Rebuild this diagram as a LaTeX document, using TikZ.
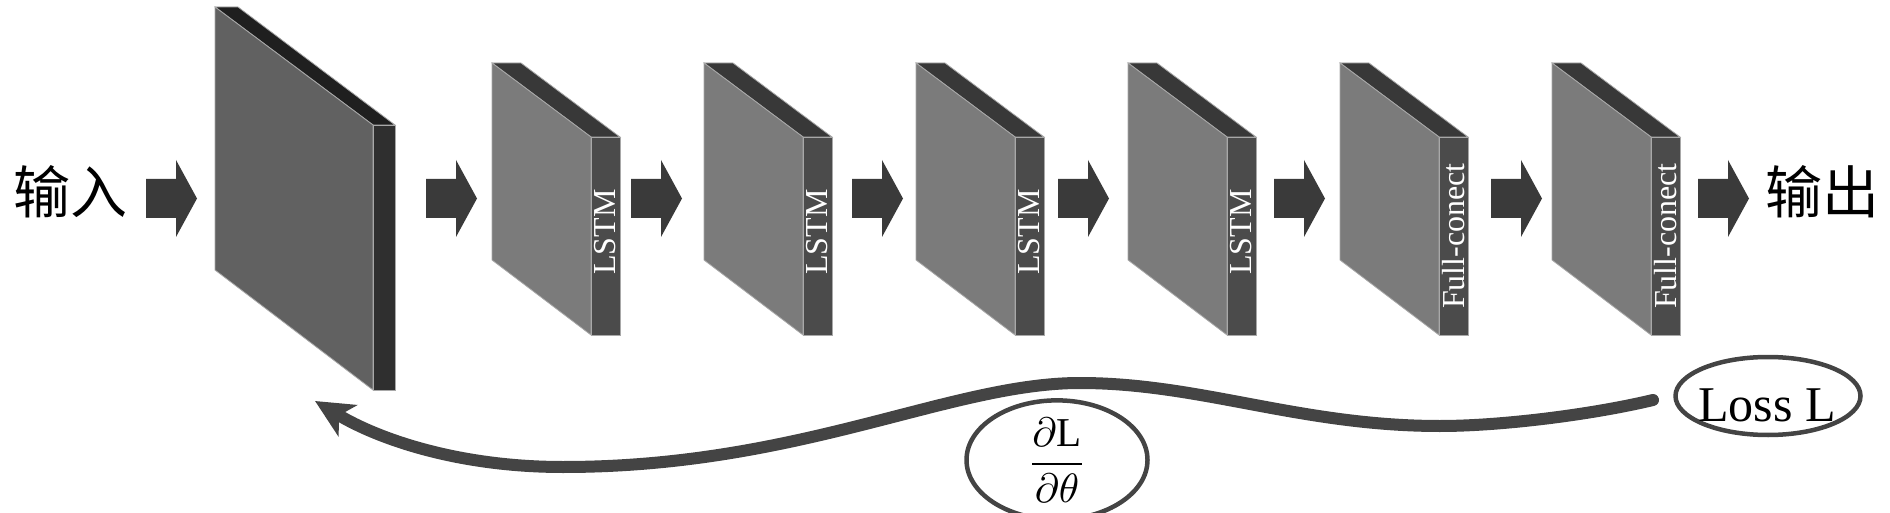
\documentclass[tikz,border=0pt]{standalone}
\usepackage{fontspec}
\setmainfont{Liberation Serif}
\newfontfamily\cjk{Noto Sans CJK SC}
\usetikzlibrary{arrows.meta,shapes.geometric}
\definecolor{frontS}{HTML}{7B7B7B}
\definecolor{bandS}{HTML}{383838}
\definecolor{sideS}{HTML}{4B4B4B}
\definecolor{frontB}{HTML}{616161}
\definecolor{bandB}{HTML}{1F1F1F}
\definecolor{sideB}{HTML}{2F2F2F}
\definecolor{arr}{HTML}{3A3A3A}
\definecolor{curvecol}{HTML}{444444}
\definecolor{edgecol}{HTML}{A8A8A8}
% small slab: #1 = left x of front face, #2 = name of strip centre
\newcommand\smallslab[2]{%
  \filldraw[slabedge,fill=bandS] (#1,63) -- (#1+29,63) -- (#1+128,137) -- (#1+99,137) -- cycle;
  \filldraw[slabedge,fill=frontS] (#1,63) -- (#1+99,137) -- (#1+99,335) -- (#1,260) -- cycle;
  \filldraw[slabedge,fill=sideS] (#1+99,137) rectangle (#1+128,335);
  \coordinate (#2) at (#1+113.5,236);
}
% block arrow: #1 = left x
\newcommand\blockarrow[1]{%
  \fill[arr] (#1,179) -- (#1+30,179) -- (#1+30,160) -- (#1+51,198.5) -- (#1+30,237) -- (#1+30,218) -- (#1,218) -- cycle;
}
\begin{document}
\begin{tikzpicture}[x=1pt,y=-1pt,
  slabedge/.style={draw=edgecol,line width=0.8pt},
  lbl/.style={rotate=90,text=white,inner sep=0pt,font=\fontsize{32}{32}\selectfont},
  cjklbl/.style={inner sep=0pt,font=\cjk\fontsize{57}{57}\selectfont},
  backprop/.style={draw=curvecol,line width=12pt,line cap=round,-{Stealth[length=38pt,width=36pt,inset=10pt]}},
  ring/.style={ellipse,draw=curvecol,line width=4.5pt,inner sep=0pt}]
\useasboundingbox (0,0) rectangle (1890,513);

% input / output texts
\node[cjklbl] (in) at (70,192) {输入};
\node[cjklbl] (out) at (1822,192) {输出};

% big first slab
\filldraw[slabedge,fill=bandB] (215,7) -- (238,7) -- (395,125) -- (373,125) -- cycle;
\filldraw[slabedge,fill=frontB] (215,7) -- (373,125) -- (373,390) -- (215,270) -- cycle;
\filldraw[slabedge,fill=sideB] (373,125) rectangle (395,390);
\coordinate (big) at (384,258);

% small slabs
\smallslab{492}{s1}
\smallslab{704}{s2}
\smallslab{916}{s3}
\smallslab{1128}{s4}
\smallslab{1340}{s5}
\smallslab{1552}{s6}

\node[lbl] (l1) at ([yshift=4pt]s1) {LSTM};
\node[lbl] (l2) at ([yshift=4pt]s2) {LSTM};
\node[lbl] (l3) at ([yshift=4pt]s3) {LSTM};
\node[lbl] (l4) at ([yshift=4pt]s4) {LSTM};
\node[lbl] (l5) at (s5) {Full-conect};
\node[lbl] (l6) at (s6) {Full-conect};

% block arrows
\blockarrow{146}
\blockarrow{426}
\blockarrow{631}
\blockarrow{852}
\blockarrow{1058}
\blockarrow{1274}
\blockarrow{1491}
\blockarrow{1698}

% loss ellipse and gradient ellipse
\node[ring,minimum width=185pt,minimum height=78pt] (loss) at (1768,396) {};
\node[inner sep=0pt,font=\fontsize{50}{50}\selectfont] (losstext) at (1767,405) {Loss L};
\node[ring,minimum width=181pt,minimum height=91pt] (grad) at (1057,460)
  {\scalebox{4.1}{$\displaystyle\frac{\partial\mathrm{L}}{\partial\theta}$}};

% back-propagation curve
\coordinate (bs) at (1653,400);
\coordinate (be) at (315,401);
\draw[backprop] (bs) .. controls (1590,415) and (1500,426) .. (1440,426)
  .. controls (1300,426) and (1200,383) .. (1080,383)
  .. controls (950,383) and (800,467) .. (563,467)
  .. controls (460,467) and (380,440) .. (be);
\end{tikzpicture}
\end{document}
